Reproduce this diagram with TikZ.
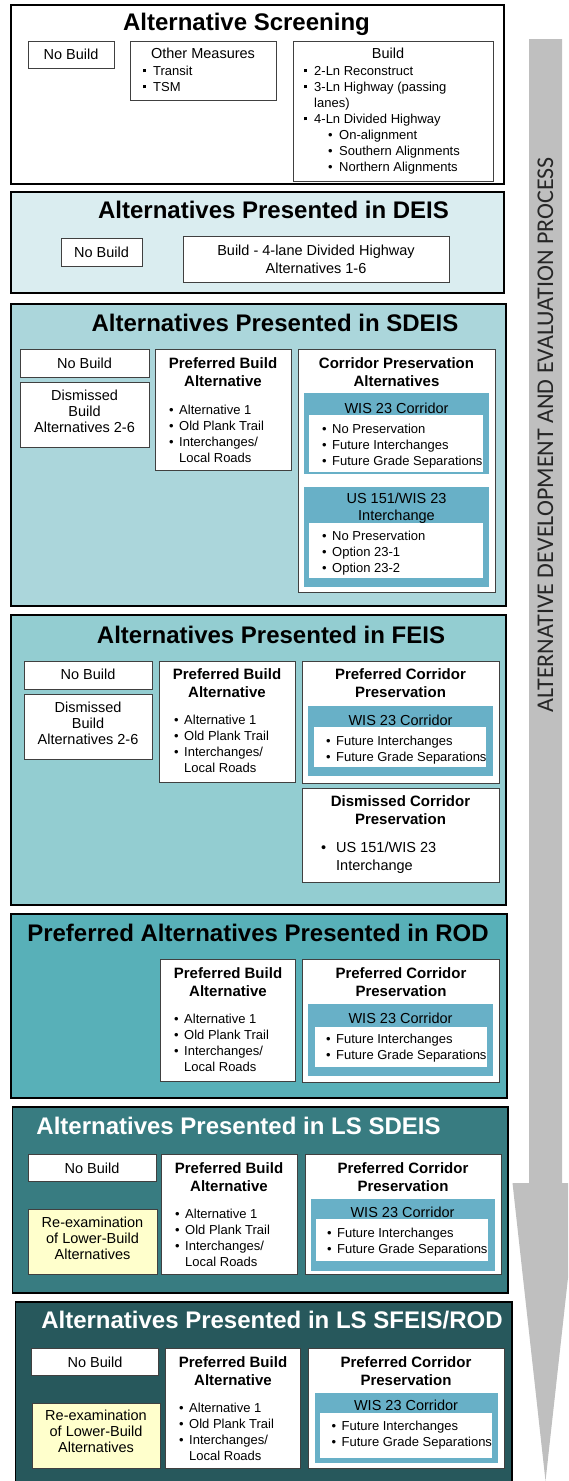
\documentclass[tikz,border=0pt]{standalone}
\usepackage{fontspec}
\usepackage{xcolor}
\usepackage{tikz}
\setmainfont{Liberation Sans}
\newfontfamily\arrowfont{Carlito}
\definecolor{deisbg}{RGB}{218,237,240}
\definecolor{sdeisbg}{RGB}{171,214,219}
\definecolor{feisbg}{RGB}{147,205,209}
\definecolor{rodbg}{RGB}{88,176,184}
\definecolor{lssdeisbg}{RGB}{56,124,129}
\definecolor{lssfeisbg}{RGB}{39,88,92}
\definecolor{corrteal}{RGB}{104,176,199}
\definecolor{reexam}{RGB}{255,255,204}
\definecolor{arrowgray}{RGB}{191,191,191}
\newcommand{\sqb}{\makebox[10pt][l]{\raisebox{2.6pt}{\rule{3.2pt}{3.2pt}}}}
\newcommand{\rdb}{\makebox[10pt][l]{\textbullet}}
\newcommand{\hng}{\hspace*{10pt}}

\begin{document}
\begin{tikzpicture}[x=1pt,y=-1pt,
  panelbox/.style={draw=black,line width=1.8pt},
  whitebox/.style={draw=black!75,line width=0.9pt,fill=white},
  tealbox/.style={fill=corrteal},
  innerbox/.style={fill=white},
  ttltxt/.style={anchor=base,inner sep=0pt,font=\fontsize{24}{28}\selectfont\bfseries},
  hdrtxt/.style={anchor=base,inner sep=0pt,align=center,font=\fontsize{15}{18}\selectfont\bfseries},
  lbltxt/.style={anchor=base,inner sep=0pt,align=center,font=\fontsize{14.5}{16}\selectfont},
  blttxt/.style={anchor=base west,inner sep=0pt,align=left,font=\fontsize{13}{16}\selectfont}]
\clip (0,0) rectangle (568,1481);
% process arrow (multi-line nodes below sit on their last baseline)
\fill [arrowgray] (529,39) -- (562,39) -- (562,1183) -- (578.5,1183) -- (545.5,1481) -- (512.5,1183) -- (529,1183) -- cycle;
\node [rotate=90,inner sep=0pt,text=black!85,font=\arrowfont\fontsize{24}{28}\selectfont] (process) at (545.5,435) {ALTERNATIVE DEVELOPMENT AND EVALUATION PROCESS};
% screening
\draw [panelbox,fill=white] (11,5) rectangle (504,184);
\node [ttltxt] (screen) at (246.5,30) {Alternative Screening};
\draw [whitebox] (28,41) rectangle (114,68);
\node [lbltxt] (screen-nb) at (71,59) {No Build};
\draw [whitebox] (130,41) rectangle (276,100);
\node [lbltxt] (screen-om) at (203,58) {Other Measures};
\node [blttxt] (screen-oml) at (143,91) {\sqb Transit\\ \sqb TSM};
\draw [whitebox] (293,41) rectangle (493,181);
\node [lbltxt] (screen-b) at (388,58) {Build};
\node [blttxt] (screen-bl) at (304,171) {\sqb 2-Ln Reconstruct\\ \sqb 3-Ln Highway (passing\\ \hng lanes)\\ \sqb 4-Ln Divided Highway\\ \hspace*{24pt}\makebox[11pt][l]{\textbullet}On-alignment\\ \hspace*{24pt}\makebox[11pt][l]{\textbullet}Southern Alignments\\ \hspace*{24pt}\makebox[11pt][l]{\textbullet}Northern Alignments};
% DEIS
\draw [panelbox,fill=deisbg] (11,192) rectangle (504,293);
\node [ttltxt] (deis) at (273.5,218) {Alternatives Presented in DEIS};
\draw [whitebox] (61,238) rectangle (142,266);
\node [lbltxt] (deis-nb) at (101.5,257) {No Build};
\draw [whitebox] (183,236) rectangle (449,282);
\node [lbltxt,font=\fontsize{14.5}{18}\selectfont] (deis-b) at (316,273) {Build - 4-lane Divided Highway\\Alternatives 1-6};
% SDEIS
\draw [panelbox,fill=sdeisbg] (11,304) rectangle (506,606);
\node [ttltxt] (sdeis) at (275,331) {Alternatives Presented in SDEIS};
\draw [whitebox] (20,349) rectangle (149,377);
\node [lbltxt] (sdeis-nb) at (84.5,368) {No Build};
\draw [whitebox] (20,382) rectangle (149,447);
\node [lbltxt] (sdeis-dis) at (84.5,432) {Dismissed\\Build\\Alternatives 2-6};
\draw [whitebox] (155,349) rectangle (291,470);
\node [hdrtxt] (sdeis-pb) at (223,386) {Preferred Build\\Alternative};
\node [blttxt] (sdeis-pbl) at (169,462) {\rdb Alternative 1\\ \rdb Old Plank Trail\\ \rdb Interchanges/\\ \hng Local Roads};
\draw [whitebox] (298,349) rectangle (495,592);
\node [hdrtxt] (sdeis-cp) at (396.5,386) {Corridor Preservation\\Alternatives};
\fill [tealbox] (304,393) rectangle (489,474);
\node [lbltxt] (sdeis-wis) at (396.5,413) {WIS 23 Corridor};
\fill [innerbox] (309,415) rectangle (483,472);
\node [blttxt] (sdeis-wisl) at (322,465) {\rdb No Preservation\\ \rdb Future Interchanges\\ \rdb Future Grade Separations};
\fill [tealbox] (304,487) rectangle (489,587);
\node [lbltxt,font=\fontsize{14.5}{17}\selectfont] (sdeis-us) at (396.5,520) {US 151/WIS 23\\Interchange};
\fill [innerbox] (309,523) rectangle (483,578);
\node [blttxt] (sdeis-usl) at (322,572) {\rdb No Preservation\\ \rdb Option 23-1\\ \rdb Option 23-2};
% FEIS
\draw [panelbox,fill=feisbg] (11,615) rectangle (506,905);
\node [ttltxt] (feis) at (271,643) {Alternatives Presented in FEIS};
\draw [whitebox] (24,661) rectangle (152,689);
\node [lbltxt] (feis-nb) at (88,679) {No Build};
\draw [whitebox] (24,694) rectangle (152,759);
\node [lbltxt] (feis-dis) at (88,744) {Dismissed\\Build\\Alternatives 2-6};
\draw [whitebox] (159,661) rectangle (295,782);
\node [hdrtxt] (feis-pb) at (227,697) {Preferred Build\\Alternative};
\node [blttxt] (feis-pbl) at (174,772) {\rdb Alternative 1\\ \rdb Old Plank Trail\\ \rdb Interchanges/\\ \hng Local Roads};
\draw [whitebox] (302,661) rectangle (499,783);
\node [hdrtxt] (feis-pc) at (400.5,697) {Preferred Corridor\\Preservation};
\fill [tealbox] (308,706) rectangle (493,776);
\node [lbltxt] (feis-wis) at (400.5,725) {WIS 23 Corridor};
\fill [innerbox] (314,727) rectangle (486,767);
\node [blttxt] (feis-wisl) at (326,761) {\rdb Future Interchanges\\ \rdb Future Grade Separations};
\draw [whitebox] (302,788) rectangle (499,882);
\node [hdrtxt] (feis-dc) at (400.5,824) {Dismissed Corridor\\Preservation};
\node [blttxt,font=\fontsize{14.5}{18}\selectfont] (feis-dcl) at (321,870) {\makebox[15pt][l]{\textbullet}US 151/WIS 23\\ \hspace*{15pt}Interchange};
% ROD
\draw [panelbox,fill=rodbg] (11,914) rectangle (507,1098);
\node [ttltxt] (rod) at (258,941) {Preferred Alternatives Presented in ROD};
\draw [whitebox] (160.5,959) rectangle (295,1081);
\node [hdrtxt] (rod-pb) at (228,996) {Preferred Build\\Alternative};
\node [blttxt] (rod-pbl) at (174,1071) {\rdb Alternative 1\\ \rdb Old Plank Trail\\ \rdb Interchanges/\\ \hng Local Roads};
\draw [whitebox] (302.5,959) rectangle (499,1082);
\node [hdrtxt] (rod-pc) at (401,996) {Preferred Corridor\\Preservation};
\fill [tealbox] (308,1004) rectangle (493,1076);
\node [lbltxt] (rod-wis) at (400.5,1023) {WIS 23 Corridor};
\fill [innerbox] (314.5,1027) rectangle (486.5,1067);
\node [blttxt] (rod-wisl) at (326,1059) {\rdb Future Interchanges\\ \rdb Future Grade Separations};
% LS SDEIS
\draw [panelbox,fill=lssdeisbg] (12.5,1107) rectangle (508,1293);
\node [ttltxt,text=white] (lssdeis) at (238.5,1134) {Alternatives Presented in LS SDEIS};
\draw [whitebox] (28,1154) rectangle (156,1181);
\node [lbltxt] (lssdeis-nb) at (92,1173) {No Build};
\draw [whitebox,fill=reexam] (28,1209) rectangle (157,1274);
\node [lbltxt] (lssdeis-re) at (92.5,1259) {Re-examination\\of Lower-Build\\Alternatives};
\draw [whitebox] (161,1154) rectangle (297,1274);
\node [hdrtxt] (lssdeis-pb) at (229,1191) {Preferred Build\\Alternative};
\node [blttxt] (lssdeis-pbl) at (175,1266) {\rdb Alternative 1\\ \rdb Old Plank Trail\\ \rdb Interchanges/\\ \hng Local Roads};
\draw [whitebox] (305,1154) rectangle (501,1274);
\node [hdrtxt] (lssdeis-pc) at (403,1191) {Preferred Corridor\\Preservation};
\fill [tealbox] (310.5,1199) rectangle (494.5,1271);
\node [lbltxt] (lssdeis-wis) at (402.5,1217) {WIS 23 Corridor};
\fill [innerbox] (316,1219) rectangle (488,1261);
\node [blttxt] (lssdeis-wisl) at (327,1253) {\rdb Future Interchanges\\ \rdb Future Grade Separations};
% LS SFEIS/ROD
\draw [panelbox,fill=lssfeisbg] (15.5,1302) rectangle (512,1495);
\node [ttltxt,text=white] (lssfeis) at (272,1328) {Alternatives Presented in LS SFEIS/ROD};
\draw [whitebox] (31.5,1348) rectangle (158,1375);
\node [lbltxt] (lssfeis-nb) at (95,1367) {No Build};
\draw [whitebox,fill=reexam] (32.5,1403) rectangle (160,1468);
\node [lbltxt] (lssfeis-re) at (96,1452) {Re-examination\\of Lower-Build\\Alternatives};
\draw [whitebox] (165.5,1348) rectangle (300,1468);
\node [hdrtxt] (lssfeis-pb) at (233,1385) {Preferred Build\\Alternative};
\node [blttxt] (lssfeis-pbl) at (179,1460) {\rdb Alternative 1\\ \rdb Old Plank Trail\\ \rdb Interchanges/\\ \hng Local Roads};
\draw [whitebox] (308,1348) rectangle (504,1468);
\node [hdrtxt] (lssfeis-pc) at (406,1385) {Preferred Corridor\\Preservation};
\fill [tealbox] (314.5,1393) rectangle (498,1463);
\node [lbltxt] (lssfeis-wis) at (406,1410) {WIS 23 Corridor};
\fill [innerbox] (319.5,1413) rectangle (492,1458);
\node [blttxt] (lssfeis-wisl) at (331.5,1446) {\rdb Future Interchanges\\ \rdb Future Grade Separations};
\end{tikzpicture}
\end{document}
